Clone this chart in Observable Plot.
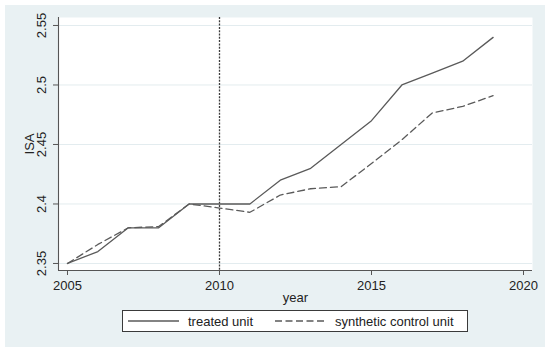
<!DOCTYPE html>
<html>
<head>
<meta charset="utf-8">
<script src="https://cdn.jsdelivr.net/npm/d3@7"></script>
<script src="https://cdn.jsdelivr.net/npm/@observablehq/plot@0.6"></script>
<style>
  html, body { margin: 0; padding: 0; background: #ffffff; width: 550px; height: 354px; overflow: hidden; }
  #panel { position: absolute; left: 5px; top: 5px; width: 540px; height: 342px; background: #e9f1f3; }
  #chart { position: absolute; left: 0; top: 0; }
  #legend { position: absolute; left: 117px; top: 305px; width: 344px; height: 20px;
    background: #ffffff; border: 1px solid #3a3a3a; font-family: "Liberation Sans", Arial, sans-serif;
    font-size: 13px; color: #222; }
  #legend .item { position: absolute; top: 0; height: 20px; display: flex; align-items: center; }
  #legend svg { display: block; }
</style>
</head>
<body>
<div id="panel">
  <div id="chart"></div>
  <div id="legend"></div>
</div>
<script>
const years = [2005, 2006, 2007, 2008, 2009, 2010, 2011, 2012, 2013, 2014, 2015, 2016, 2017, 2018, 2019];
const treated = [2.35, 2.36, 2.38, 2.38, 2.40, 2.40, 2.40, 2.42, 2.43, 2.45, 2.47, 2.50, 2.51, 2.52, 2.54];
const synthetic = [2.35, 2.366, 2.38, 2.381, 2.40, 2.3966, 2.393, 2.4075, 2.4128, 2.4145, 2.434, 2.454, 2.4765, 2.482, 2.491];
const seriesNames = ["treated unit", "synthetic control unit"];
const xTicks = [2005, 2010, 2015, 2020];
const yTicks = [2.35, 2.4, 2.45, 2.5, 2.55];
const yTickLabels = ["2.35", "2.4", "2.45", "2.5", "2.55"];
const treatmentYear = [2010];
const xDomain = [2004.704, 2020.296];
const yDomain = [2.3441, 2.5567];
const xLabel = "year";
const yLabel = "ISA";

const rows = years.map((y, i) => ({year: y, value: treated[i], series: seriesNames[0]}))
  .concat(years.map((y, i) => ({year: y, value: synthetic[i], series: seriesNames[1]})));
const yTickRows = yTicks.map((v, i) => ({v, label: yTickLabels[i]}));

const lineColor = "#5a5a5a";
const font = "Liberation Sans, Arial, sans-serif";

const plot = Plot.plot({
  width: 540,
  height: 300,
  marginLeft: 53,
  marginRight: 13,
  marginTop: 12,
  marginBottom: 35,
  style: {background: "transparent", fontFamily: font, fontSize: "13px", color: "#222"},
  x: {domain: xDomain, ticks: xTicks, tickFormat: d => String(d), label: null},
  y: {domain: yDomain, ticks: yTicks, label: null},
  marks: [
    Plot.frame({fill: "#ffffff", stroke: "none"}),
    Plot.gridY(yTicks, {stroke: "#e3ecef", strokeOpacity: 1, strokeWidth: 1}),
    Plot.ruleX([xDomain[0]], {stroke: "#555", strokeWidth: 1.1}),
    Plot.ruleY([yDomain[0]], {stroke: "#555", strokeWidth: 1.1}),
    Plot.axisX({ticks: xTicks, tickSize: 5, tickPadding: 5, tickFormat: d => String(d), stroke: "#555", fill: "#222", fontSize: 13, label: null}),
    Plot.axisY({ticks: yTicks, tickSize: 5, tickFormat: () => "", stroke: "#555", label: null}),
    Plot.text(yTickRows, {y: "v", text: "label", frameAnchor: "left", dx: -17, rotate: -90, textAnchor: "middle", lineAnchor: "middle", fill: "#222", fontSize: 13}),
    Plot.text([yLabel], {frameAnchor: "left", dx: -29, rotate: -90, textAnchor: "middle", lineAnchor: "middle", fill: "#222", fontSize: 13}),
    Plot.text([xLabel], {frameAnchor: "bottom", dy: 27, lineAnchor: "middle", textAnchor: "middle", fill: "#222", fontSize: 13}),
    Plot.ruleX(treatmentYear, {stroke: "#3c3c3c", strokeWidth: 1.3, strokeDasharray: "2,1.3"}),
    Plot.line(rows.filter(d => d.series === seriesNames[0]), {x: "year", y: "value", stroke: lineColor, strokeWidth: 1.3}),
    Plot.line(rows.filter(d => d.series === seriesNames[1]), {x: "year", y: "value", stroke: lineColor, strokeWidth: 1.3, strokeDasharray: "7,4"})
  ]
});
document.getElementById("chart").appendChild(plot);

// legend
const legend = document.getElementById("legend");
const items = [
  {name: seriesNames[0], dash: null, left: 5},
  {name: seriesNames[1], dash: "7,3.5", left: 152}
];
for (const it of items) {
  const div = document.createElement("div");
  div.className = "item";
  div.style.left = it.left + "px";
  const svg = d3.create("svg").attr("width", 60).attr("height", 20);
  svg.append("line").attr("x1", 0).attr("x2", 51).attr("y1", 10).attr("y2", 10)
    .attr("stroke", lineColor).attr("stroke-width", 1.3)
    .attr("stroke-dasharray", it.dash);
  div.appendChild(svg.node());
  const span = document.createElement("span");
  span.textContent = it.name;
  div.appendChild(span);
  legend.appendChild(div);
}
</script>
</body>
</html>
